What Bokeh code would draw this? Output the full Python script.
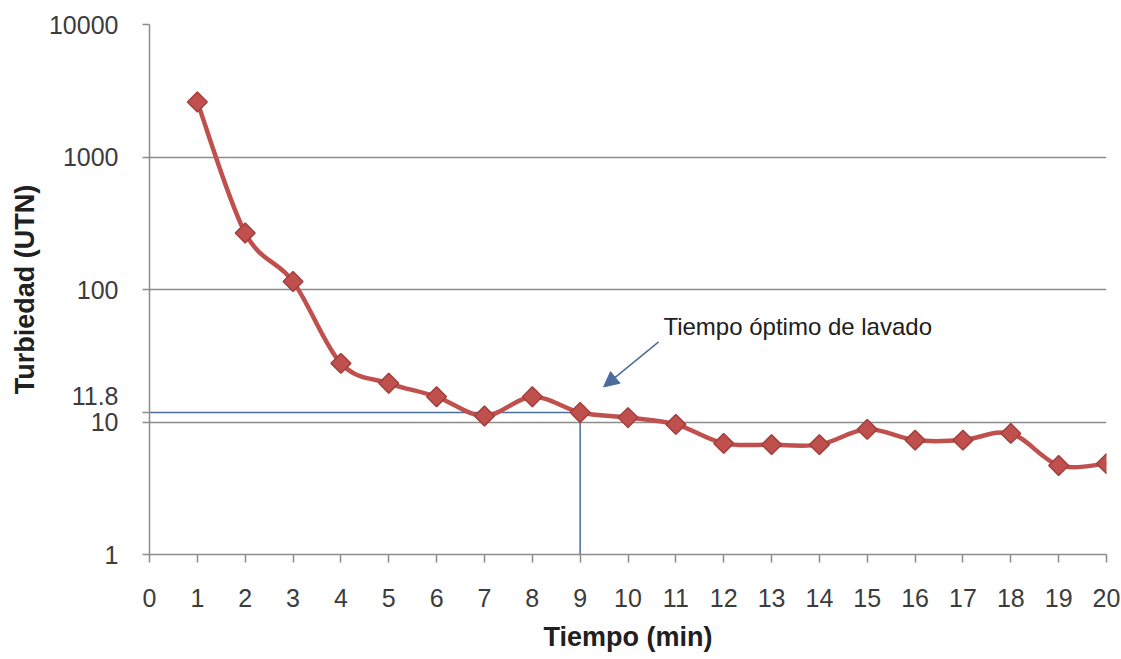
import numpy as np
from bokeh.plotting import figure
from bokeh.models import FixedTicker, BasicTickFormatter, Label, Arrow, NormalHead
from bokeh.embed import file_html
from bokeh.resources import INLINE

# Turbidity of wash water versus washing time
tiempo = list(range(1, 21))
turbiedad = [2600, 267, 115, 27.7, 19.6, 15.5, 11.1, 15.5, 11.8, 10.8,
             9.6, 6.9, 6.75, 6.75, 8.8, 7.3, 7.3, 8.2, 4.7, 4.85]
x_ticks = list(range(0, 21))
y_ticks = [1, 10, 100, 1000, 10000]

# optimum washing time and its turbidity
t_optimo = 9
turb_optima = 11.8
nota = "Tiempo óptimo de lavado"

SERIES = "#C0504D"
EDGE = "#A33F3C"
GRID = "#8C8C8C"
BLUE = "#4A6D9C"
TXT = "#3C3C3C"

p = figure(width=1121, height=659, x_range=(0, 20), y_range=(1, 10000),
           y_axis_type="log", output_backend="svg", toolbar_location=None,
           min_border_left=149, min_border_right=15, min_border_top=24,
           min_border_bottom=105, background_fill_color="white",
           border_fill_color="white")
p.outline_line_color = None

# axes; the optimum turbidity gets its own tick, its label lifted above the line
p.xaxis.ticker = FixedTicker(ticks=x_ticks)
p.yaxis.ticker = FixedTicker(ticks=sorted(y_ticks + [turb_optima]))
p.yaxis.formatter = BasicTickFormatter(use_scientific=False)
p.yaxis.major_label_overrides = {turb_optima: f"{turb_optima}\n"}
for ax in (p.xaxis, p.yaxis):
    ax.axis_line_color = GRID
    ax.axis_line_width = 1.5
    ax.major_tick_line_color = GRID
    ax.major_tick_line_width = 1.5
    ax.major_tick_in = 0
    ax.minor_tick_line_color = None
    ax.major_label_text_font = "Liberation Sans"
    ax.major_label_text_font_size = "25px"
    ax.major_label_text_color = TXT
    ax.axis_label_text_font = "Liberation Sans"
    ax.axis_label_text_font_style = "bold"
    ax.axis_label_text_font_size = "27px"
    ax.axis_label_text_color = "#202020"
p.xaxis.major_tick_out = 8
p.yaxis.major_tick_out = 7
p.xaxis.major_label_standoff = 26
p.yaxis.major_label_standoff = 24
p.xaxis.axis_label = "Tiempo (min)"
p.yaxis.axis_label = "Turbiedad (UTN)"
p.xaxis.axis_label_standoff = 12
p.yaxis.axis_label_standoff = 6

p.xgrid.grid_line_color = None
p.ygrid.ticker = FixedTicker(ticks=y_ticks)
p.ygrid.grid_line_color = GRID
p.ygrid.grid_line_width = 1.5

# guide lines marking the optimum
p.line([0, t_optimo], [turb_optima, turb_optima], line_color=BLUE, line_width=1.5)
p.line([t_optimo, t_optimo], [1, turb_optima], line_color=BLUE, line_width=1.5)

# smoothed series: cubic segments built in (x, log y) space
lx = np.array(tiempo, dtype=float)
ly = np.log10(np.array(turbiedad, dtype=float))
n = len(lx)
x0, y0, x1, y1, cx0, cy0, cx1, cy1 = ([] for _ in range(8))
for i in range(n - 1):
    a = max(i - 1, 0)
    b = min(i + 2, n - 1)
    x0.append(lx[i]); y0.append(10 ** ly[i])
    x1.append(lx[i + 1]); y1.append(10 ** ly[i + 1])
    cx0.append(lx[i] + (lx[i + 1] - lx[a]) / 6)
    cy0.append(10 ** (ly[i] + (ly[i + 1] - ly[a]) / 6))
    cx1.append(lx[i + 1] - (lx[b] - lx[i]) / 6)
    cy1.append(10 ** (ly[i + 1] - (ly[b] - ly[i]) / 6))
p.bezier(x0=x0, y0=y0, x1=x1, y1=y1, cx0=cx0, cy0=cy0, cx1=cx1, cy1=cy1,
         line_color=SERIES, line_width=4.5)

p.scatter(tiempo, turbiedad, marker="square", size=14, angle=np.pi / 4,
          fill_color=SERIES, line_color=EDGE, line_width=1.5)

# annotation with arrow
p.add_layout(Arrow(x_start=10.64, y_start=40.2, x_end=9.49, y_end=18.4,
                   line_color=BLUE, line_width=1.5,
                   end=NormalHead(size=15, fill_color=BLUE, line_color=BLUE)))
p.add_layout(Label(x=10.74, y=52.8, text=nota, text_align="left",
                   text_baseline="middle", text_font="Liberation Sans",
                   text_font_size="24px", text_color="#202020"))

open("out.html", "w").write(file_html(p, INLINE))
